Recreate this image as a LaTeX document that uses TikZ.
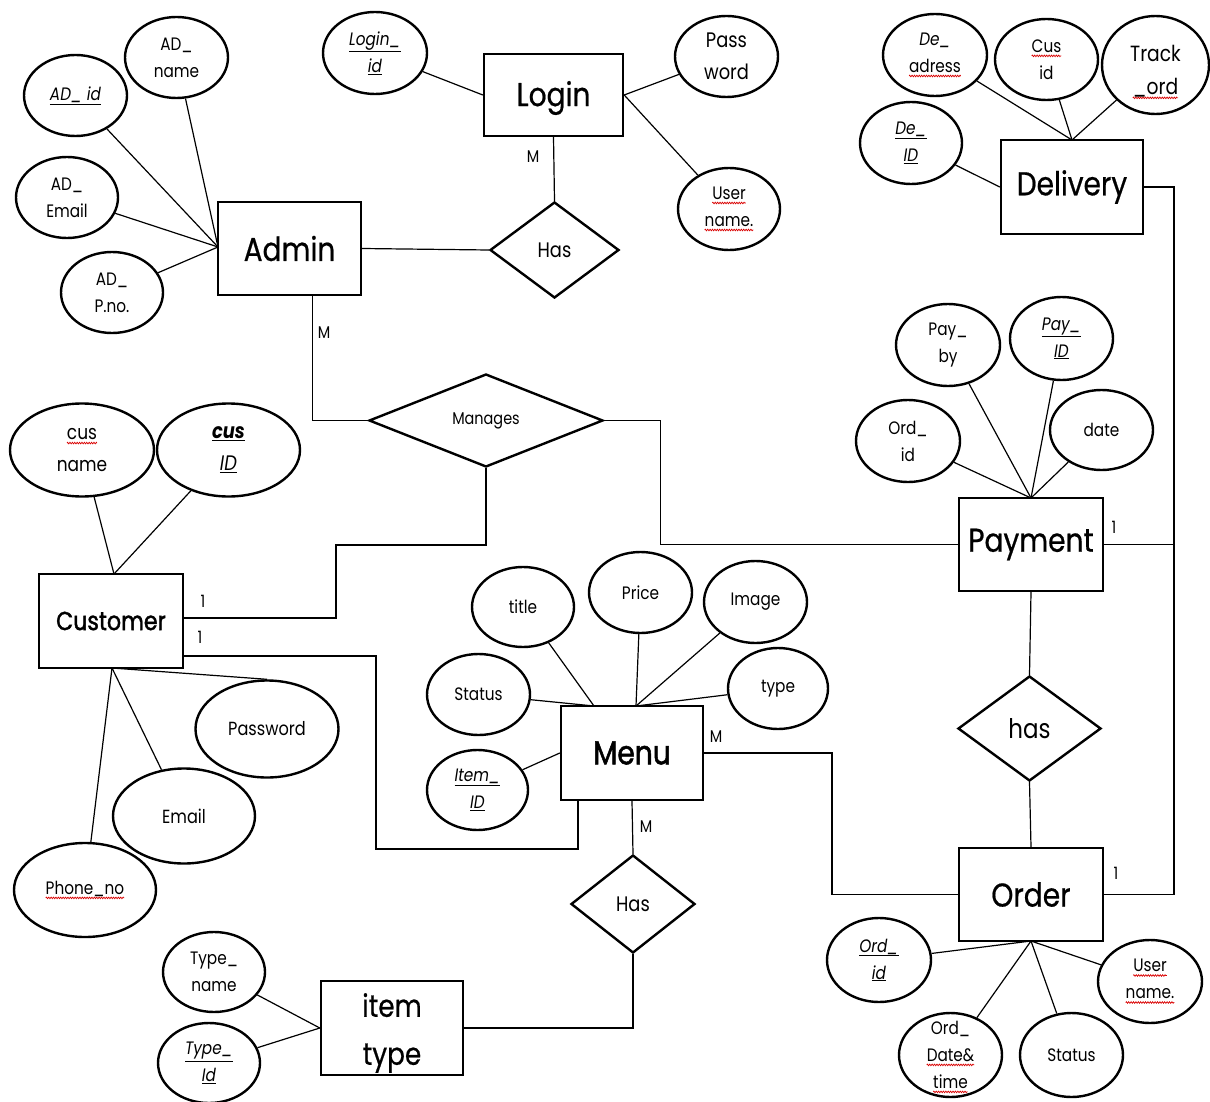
\documentclass[tikz,border=0pt]{standalone}
\usepackage{fontspec}
\setmainfont[FakeStretch=0.85]{Poppins}
\newfontfamily\entfont[FakeStretch=0.85,FakeBold=0.6]{Poppins}
\newfontfamily\entboldfont[FakeStretch=0.85,FakeBold=1.6]{Poppins}
\usetikzlibrary{shapes.geometric,decorations.pathmorphing}
\newcommand\sq[1]{\tikz[baseline=(sqw.base),x=1pt,y=1pt]{\node[shape=rectangle,draw=none,fill=none,inner sep=0pt,outer sep=0pt,minimum width=0pt,minimum height=0pt] (sqw) {#1};\draw[red!85!black,line width=0.7pt,decorate,decoration={zigzag,amplitude=0.8pt,segment length=2.4pt}] ([yshift=-3.6pt]sqw.base west) -- ([yshift=-3.6pt]sqw.base east);}}
\newcommand\ul[1]{\underline{#1}}
\begin{document}
\begin{tikzpicture}[x=1pt,y=-1pt,
  ent/.style={draw, line width=2.4pt, rectangle, inner sep=0pt, align=center, font=\entfont\fontsize{33}{44}\selectfont},
  attr/.style={draw, line width=2.4pt, ellipse, inner sep=0pt, align=center, font=\fontsize{18}{27}\selectfont},
  atxt/.style={inner sep=0pt, align=center, font=\fontsize{18}{27}\selectfont},
  rel/.style={draw, line width=2.4pt, diamond, inner sep=0pt, font=\fontsize{21}{24}\selectfont},
  conn/.style={line width=1.2pt},
  card/.style={inner sep=0pt, font=\fontsize{17}{17}\selectfont}
]
\useasboundingbox (0,0) rectangle (1210,1102);

% entities
\node[ent, minimum width=139pt, minimum height=82pt] (login) at (553.5,95) {};
\node[inner sep=0pt, font=\entfont\fontsize{33}{44}\selectfont] (logintxt) at (553.5,98) {Login};
\node[ent, minimum width=143pt, minimum height=93pt] (admin) at (289.5,248.5) {Admin};
\node[ent, minimum width=142pt, minimum height=94pt] (delivery) at (1072,187) {Delivery};
\node[ent, minimum width=144pt, minimum height=93pt] (payment) at (1031,544.5) {Payment};
\node[ent, minimum width=144pt, minimum height=94pt, font=\entboldfont\fontsize{26}{30}\selectfont] (customer) at (111,621) {Customer};
\node[ent, minimum width=142pt, minimum height=94pt, font=\entboldfont\fontsize{33}{44}\selectfont] (menu) at (632,753) {Menu};
\node[ent, minimum width=144pt, minimum height=93pt] (order) at (1031,894.5) {Order};
\node[ent, minimum width=142pt, minimum height=94pt] (itemtype) at (392,1028) {};
\node[inner sep=0pt, align=center, font=\entfont\fontsize{31}{48}\selectfont] (itemtypetxt) at (392,1033) {item\\type};

% relationships
\node[rel, minimum width=129pt, minimum height=96pt] (hast) at (554.5,250) {Has};
\node[rel, minimum width=234pt, minimum height=93pt, font=\fontsize{17}{20}\selectfont] (manages) at (486,420.5) {Manages};
\node[rel, minimum width=143pt, minimum height=105pt, font=\fontsize{27}{30}\selectfont] (hasr) at (1029.5,728.5) {has};
\node[rel, minimum width=124pt, minimum height=98pt] (hasb) at (633,904) {Has};

% attributes
\node[attr, minimum width=103pt, minimum height=81pt] (adname) at (176.5,57.5) {AD\_\\name};
\node[attr, minimum width=103pt, minimum height=81pt] (adid) at (75.5,95.5) {\ul{\textit{AD\_ id}}};
\node[attr, minimum width=102pt, minimum height=81pt] (ademail) at (67,197.5) {AD\_\\Email};
\node[attr, minimum width=102pt, minimum height=81pt] (adpno) at (112,292.5) {AD\_\\P.no.};
\node[attr, minimum width=104pt, minimum height=82pt] (loginid) at (375,53) {\ul{\textit{Login\_}}\\\ul{\textit{id}}};
\node[attr, minimum width=103pt, minimum height=81pt, font=\fontsize{21}{32}\selectfont] (passw) at (726.5,56.5) {Pass\\word};
\node[attr, minimum width=102pt, minimum height=82pt] (lusername) at (729,209) {\sq{User}\\\sq{name.}};
\node[attr, minimum width=104pt, minimum height=82pt] (deadress) at (935,55) {\textit{De\_}\\\sq{adress}};
\node[attr, minimum width=103pt, minimum height=81pt] (cusid) at (1046.5,59.5) {\sq{Cus}\\id};
\node[attr, minimum width=107pt, minimum height=98pt] (trackord) at (1155.5,65) {};
\node[atxt, font=\fontsize{22}{33}\selectfont] (trackordtxt) at (1155.5,72) {Track\\\sq{\_ord}};
\node[attr, minimum width=102pt, minimum height=82pt] (deid) at (911,143) {\ul{\textit{De\_}}\\\ul{\textit{ID}}};
\node[attr, minimum width=104pt, minimum height=82pt] (payby) at (948,345) {Pay\_\\by};
\node[attr, minimum width=103pt, minimum height=83pt] (payid) at (1061.5,338.5) {\ul{\textit{Pay\_}}\\\ul{\textit{ID}}};
\node[attr, minimum width=104pt, minimum height=82pt] (pordid) at (908,441) {Ord\_\\id};
\node[attr, minimum width=103pt, minimum height=80pt] (date) at (1101.5,430) {date};
\node[attr, minimum width=144pt, minimum height=93pt, font=\fontsize{20}{32}\selectfont] (cusname) at (82,450) {\sq{cus}\\name};
\node[attr, minimum width=143pt, minimum height=93pt, font=\fontsize{21}{32}\selectfont] (cusid2) at (228.5,450) {\ul{\textbf{\textit{cus}}}\\\ul{\textit{ID}}};
\node[attr, minimum width=143pt, minimum height=97pt, font=\fontsize{19}{27}\selectfont] (password) at (267,729) {Password};
\node[attr, minimum width=142pt, minimum height=95pt, font=\fontsize{19}{27}\selectfont] (email) at (184,816) {Email};
\node[attr, minimum width=142pt, minimum height=94pt] (phone) at (85,890) {\sq{Phone\_no}};
\node[attr, minimum width=102pt, minimum height=80pt] (typename) at (214,972) {Type\_\\name};
\node[attr, minimum width=102pt, minimum height=80pt] (typeid) at (209,1063) {\ul{\textit{Type\_}}\\\ul{\textit{Id}}};
\node[attr, minimum width=102pt, minimum height=80pt] (title) at (523,607) {title};
\node[attr, minimum width=103pt, minimum height=81pt] (price) at (640.5,592.5) {Price};
\node[attr, minimum width=103pt, minimum height=82pt] (image) at (755.5,602) {Image};
\node[attr, minimum width=103pt, minimum height=81pt] (mstatus) at (478.5,694.5) {Status};
\node[attr, minimum width=100pt, minimum height=81pt] (mtype) at (778,688.5) {type};
\node[attr, minimum width=101pt, minimum height=80pt] (itemid) at (477.5,790) {\ul{\textit{Item\_}}\\\ul{\textit{ID}}};
\node[attr, minimum width=104pt, minimum height=84pt] (oordid) at (879,960) {\ul{\textit{Ord\_}}\\\ul{\textit{id}}};
\node[attr, minimum width=103pt, minimum height=84pt] (odate) at (950.5,1055) {};
\node[atxt] (odatetxt) at (950.5,1057) {Ord\_\\\sq{Date\&}\\\sq{time}};
\node[attr, minimum width=103pt, minimum height=84pt] (ostatus) at (1071.5,1055) {Status};
\node[attr, minimum width=104pt, minimum height=83pt] (ousername) at (1150,981.5) {\sq{User}\\\sq{name.}};

% hubs
\coordinate (adminhub) at (218,247);
\coordinate (custop) at (114,574);
\coordinate (cusbot) at (112,668);
\coordinate (menuhubL) at (594,706);
\coordinate (menuhubR) at (636,706);
\coordinate (payhub) at (1031,498);
\coordinate (ordhub) at (1031,941);
\coordinate (delhub) at (1072,140);

% attribute connectors
\draw[conn] (adid) -- (adminhub);
\draw[conn] (adname) -- (adminhub);
\draw[conn] (ademail) -- (adminhub);
\draw[conn] (adpno) -- (adminhub);
\draw[conn] (loginid) -- (login.west);
\draw[conn] (passw) -- (login.east);
\draw[conn] (lusername) -- (login.east);
\draw[conn] (deadress) -- (delhub);
\draw[conn] (cusid) -- (delhub);
\draw[conn] (trackord) -- (delhub);
\draw[conn] (deid) -- (delivery.west);
\draw[conn] (payby) -- (payhub);
\draw[conn] (payid) -- (payhub);
\draw[conn] (pordid) -- (payhub);
\draw[conn] (date) -- (payhub);
\draw[conn] (cusname) -- (custop);
\draw[conn] (cusid2) -- (custop);
\draw[conn] (password.north) -- (cusbot);
\draw[conn] (email) -- (cusbot);
\draw[conn] (phone) -- (cusbot);
\draw[conn] (typename) -- (itemtype.west);
\draw[conn] (typeid) -- (itemtype.west);
\draw[conn] (title) -- (menuhubL);
\draw[conn] (mstatus) -- (menuhubL);
\draw[conn] (price) -- (menuhubR);
\draw[conn] (image) -- (menuhubR);
\draw[conn] (mtype) -- (menuhubR);
\draw[conn] (itemid) -- (menu.west);
\draw[conn] (oordid) -- (ordhub);
\draw[conn] (odate) -- (ordhub);
\draw[conn] (ostatus) -- (ordhub);
\draw[conn] (ousername) -- (ordhub);

% relationship connectors
\draw[conn] (login.south) -- (hast.north);
\draw[conn] (admin.east) -- (hast.west);
\draw[conn] ([xshift=23pt]admin.south) |- (manages.west);
\draw[conn] (manages.east) -- ++(56,0) |- (payment.west);
\draw[conn] (manages.south) -- (486,545) -- (336,545) |- ([yshift=3pt]customer.east);
\draw[conn] ([yshift=-35pt]customer.east) -- (376,656) -- (376,849) -| ([xshift=-54pt]menu.south);
\draw[conn] (menu.east) -- (832,753) |- (order.west);
\draw[conn] (menu.south) -- (hasb.north);
\draw[conn] (hasb.south) |- (itemtype.east);
\draw[conn] (delivery.east) -- (1174,187) |- (order.east);
\draw[conn] (payment.east) -- (1174,544.5);
\draw[conn] (payment.south) -- (hasr.north);
\draw[conn] (hasr.south) -- (order.north);

% cardinalities
\node[card] (m1) at (533,157) {M};
\node[card] (m2) at (324,333) {M};
\node[card] (c1) at (203,601) {1};
\node[card] (c2) at (200,637) {1};
\node[card] (m3) at (716,737) {M};
\node[card] (m4) at (646,827) {M};
\node[card] (c3) at (1114,527) {1};
\node[card] (c4) at (1116,873) {1};
\end{tikzpicture}
\end{document}
